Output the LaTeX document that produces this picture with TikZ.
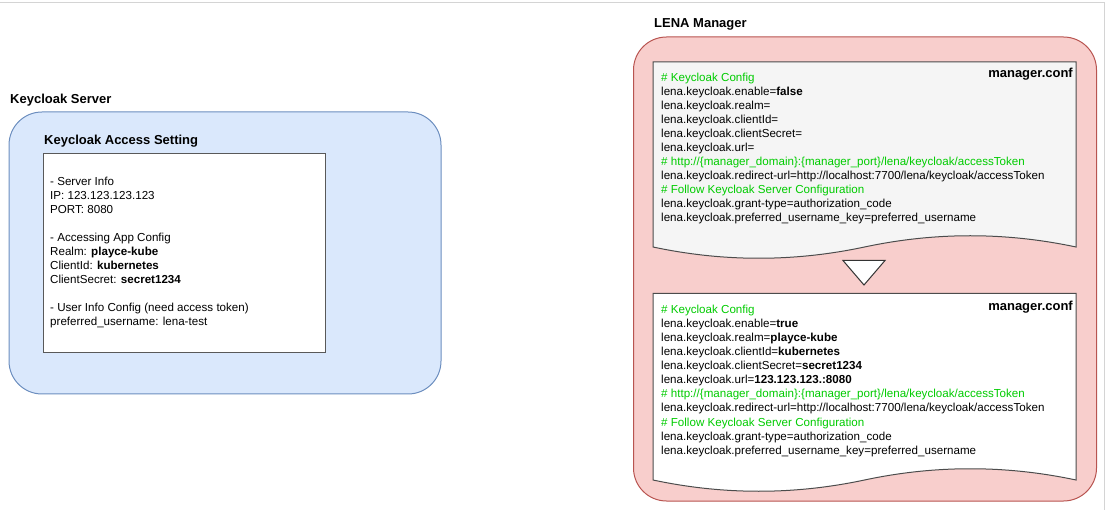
\documentclass[tikz,border=0pt]{standalone}
\usepackage{fontspec}
\setmainfont{Liberation Sans}
\definecolor{kgreen}{HTML}{00CC00}
\definecolor{bluefill}{HTML}{DAE8FC}
\definecolor{bluedraw}{HTML}{6C8EBF}
\definecolor{redfill}{HTML}{F8CECC}
\definecolor{reddraw}{HTML}{B85450}
\definecolor{docgray}{HTML}{F5F5F5}
\definecolor{edgegray}{HTML}{D4D4D4}
\tikzset{
  ln/.style={anchor=base west, inner sep=0pt, font=\fontsize{11.6}{14}\selectfont},
  head/.style={anchor=base west, inner sep=0pt, font=\fontsize{13}{15}\selectfont\bfseries},
  conf/.style={anchor=base east, inner sep=0pt, font=\fontsize{13}{15}\selectfont\bfseries},
  group/.style={rounded corners=33pt, line width=1pt, inner sep=0pt, anchor=north west},
  docshape/.style={draw=black!70, line width=1pt},
}
\newcommand{\gr}[1]{\textcolor{kgreen}{#1}}
\begin{document}
\begin{tikzpicture}[x=1pt,y=-1pt]
\useasboundingbox (0,0) rectangle (1111,510);
% frame lines
\draw[edgegray, line width=1pt] (0,2.5) -- (1104.5,2.5) -- (1104.5,510);

% ---------------- Keycloak Server ----------------
\node[head] (kstitle) at (10,103.5) {Keycloak Server};
\node[group, fill=bluefill, draw=bluedraw, minimum width=432pt, minimum height=282pt] (ksbox) at (8.5,111.5) {};
\node[head] (katitle) at (44,144.5) {Keycloak Access Setting};
\node[draw=black!65, fill=white, line width=1pt, inner sep=0pt, anchor=north west, minimum width=282pt, minimum height=199pt] (kabox) at (42.5,153.5) {};
\node[ln] (k1) at (50,186) {- Server Info};
\node[ln] (k2) at (50,200) {IP: 123.123.123.123};
\node[ln] (k3) at (50,214) {PORT: 8080};
\node[ln] (k4) at (50,242) {- Accessing App Config};
\node[ln] (k5) at (50,256) {Realm: \textbf{playce-kube}};
\node[ln] (k6) at (50,270) {ClientId: \textbf{kubernetes}};
\node[ln] (k7) at (50,284) {ClientSecret: \textbf{secret1234}};
\node[ln] (k8) at (50,312) {- User Info Config (need access token)};
\node[ln] (k9) at (50,326) {preferred\_username: lena-test};

% ---------------- LENA Manager ----------------
\node[head] (lmtitle) at (654,27.5) {LENA Manager};
\node[group, fill=redfill, draw=reddraw, minimum width=463pt, minimum height=464pt] (lmbox) at (633,36.5) {};

% top document
\filldraw[docshape, fill=docgray] (653,62) -- (1076,62) -- (1076,247)
  .. controls (1005.5,232) and (935,232) .. (864.5,247)
  .. controls (794,262) and (723.5,262) .. (653,247) -- cycle;
\node[conf] (c1) at (1073,78) {manager.conf};
\node[ln] (a1) at (661,81.5) {\gr{\# Keycloak Config}};
\node[ln] (a2) at (661,95.5) {lena.keycloak.enable=\textbf{false}};
\node[ln] (a3) at (661,109.5) {lena.keycloak.realm=};
\node[ln] (a4) at (661,123.5) {lena.keycloak.clientId=};
\node[ln] (a5) at (661,137.5) {lena.keycloak.clientSecret=};
\node[ln] (a6) at (661,151.5) {lena.keycloak.url=};
\node[ln] (a7) at (661,165.5) {\gr{\# http://\{manager\_domain\}:\{manager\_port\}/lena/keycloak/accessToken}};
\node[ln] (a8) at (661,179.5) {lena.keycloak.redirect-url=http://localhost:7700/lena/keycloak/accessToken};
\node[ln] (a9) at (661,193.5) {\gr{\# Follow Keycloak Server Configuration}};
\node[ln] (a10) at (661,207.5) {lena.keycloak.grant-type=authorization\_code};
\node[ln] (a11) at (661,221.5) {lena.keycloak.preferred\_username\_key=preferred\_username};

% arrow triangle
\filldraw[fill=white, draw=black!80, line width=1pt] (843,260.5) -- (885,260.5) -- (864,285) -- cycle;

% bottom document
\filldraw[docshape, fill=white] (653,293.5) -- (1076,293.5) -- (1076,480)
  .. controls (1005.5,465) and (935,465) .. (864.5,480)
  .. controls (794,495) and (723.5,495) .. (653,480) -- cycle;
\node[conf] (c2) at (1073,310.5) {manager.conf};
\node[ln] (b1) at (661,314) {\gr{\# Keycloak Config}};
\node[ln] (b2) at (661,328) {lena.keycloak.enable=\textbf{true}};
\node[ln] (b3) at (661,342) {lena.keycloak.realm=\textbf{playce-kube}};
\node[ln] (b4) at (661,356) {lena.keycloak.clientId=\textbf{kubernetes}};
\node[ln] (b5) at (661,370) {lena.keycloak.clientSecret=\textbf{secret1234}};
\node[ln] (b6) at (661,384) {lena.keycloak.url=\textbf{123.123.123.:8080}};
\node[ln] (b7) at (661,398) {\gr{\# http://\{manager\_domain\}:\{manager\_port\}/lena/keycloak/accessToken}};
\node[ln] (b8) at (661,412) {lena.keycloak.redirect-url=http://localhost:7700/lena/keycloak/accessToken};
\node[ln] (b9) at (661,426) {\gr{\# Follow Keycloak Server Configuration}};
\node[ln] (b10) at (661,440) {lena.keycloak.grant-type=authorization\_code};
\node[ln] (b11) at (661,454) {lena.keycloak.preferred\_username\_key=preferred\_username};
\end{tikzpicture}
\end{document}
